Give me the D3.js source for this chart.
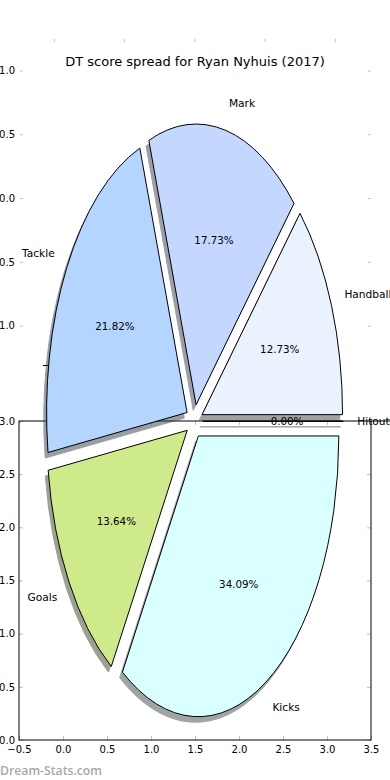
<!DOCTYPE html>
<html>
<head>
<meta charset="utf-8">
<script src="https://cdn.jsdelivr.net/npm/d3@7/dist/d3.min.js"></script>
<style>
  html, body { margin: 0; padding: 0; background: #fff; }
  svg { display: block; font-family: "DejaVu Sans", sans-serif; }
</style>
</head>
<body>
<script>
// ---- data ----
const title = "DT score spread for Ryan Nyhuis (2017)";
const categories = ["Hitout", "Handball", "Mark", "Tackle", "Goals", "Kicks"];
const values = [0.00, 12.73, 17.73, 21.82, 13.64, 34.09];
const colors = ["#eeeeee", "#eaf1ff", "#c4d8ff", "#b3d5ff", "#cfea8a", "#d9ffff"];
const explodeAmt = 0.06;
const ghostXTicks = [-1, -0.5, 0, 0.5, 1];
const ghostYTicks = [-1, -0.5, 0, 0.5, 1];
const bottomXTicks = [-0.5, 0, 0.5, 1, 1.5, 2, 2.5, 3, 3.5];
const bottomYTicks = [0, 0.5, 1, 1.5, 2, 2.5, 3];
const watermark = "Dream-Stats.com";

const W = 390, H = 780;
const svg = d3.select("body").append("svg").attr("width", W).attr("height", H);

// ---- bottom axes (drawn underneath the pie) ----
const bx = d3.scaleLinear().domain([-0.5, 3.5]).range([19, 371]);
const by = d3.scaleLinear().domain([0, 3]).range([740, 421]);
const tickGray = "#c0c0c0";
const fmt = d3.format(".1f");

function styleAxis(g) {
  g.select(".domain").remove();
  g.selectAll(".tick line").attr("stroke", tickGray);
  g.selectAll(".tick text").attr("fill", "#000").attr("font-size", 10).attr("font-family", "DejaVu Sans");
}

svg.append("g").attr("transform", `translate(0,${by(0)})`)
  .call(d3.axisBottom(bx).tickValues(bottomXTicks).tickFormat(fmt).tickSizeInner(-4).tickSizeOuter(0).tickPadding(6))
  .call(styleAxis);
svg.append("g").attr("transform", `translate(${bx(-0.5)},0)`)
  .call(d3.axisLeft(by).tickValues(bottomYTicks).tickFormat(fmt).tickSizeInner(-4).tickSizeOuter(0).tickPadding(4))
  .call(styleAxis);
svg.append("g").attr("transform", `translate(0,${by(3)})`)
  .call(d3.axisTop(bx).tickValues(bottomXTicks).tickFormat("").tickSizeInner(-4).tickSizeOuter(0))
  .call(styleAxis);
svg.append("g").attr("transform", `translate(${bx(3.5)},0)`)
  .call(d3.axisRight(by).tickValues(bottomYTicks).tickFormat("").tickSizeInner(-4).tickSizeOuter(0))
  .call(styleAxis);
svg.append("rect")
  .attr("x", bx(-0.5)).attr("y", by(3))
  .attr("width", bx(3.5) - bx(-0.5)).attr("height", by(0) - by(3))
  .attr("fill", "none").attr("stroke", "#000").attr("stroke-width", 1);
svg.append("line").attr("x1", bx(3.5)).attr("x2", W).attr("y1", by(3)).attr("y2", by(3))
  .attr("stroke", "#000").attr("stroke-width", 1);

// ---- ghost axes (faint ticks above) ----
const px = d3.scaleLinear().domain([-1, 1]).range([194.3 - 140.5, 194.3 + 140.5]);
const py = d3.scaleLinear().domain([-1, 1]).range([421.2 + 280.7, 421.2 - 280.7]);
const gy = d3.scaleLinear().domain([-1, 1]).range([325.7, 70.5]);

svg.append("g").attr("transform", "translate(0,39)")
  .call(d3.axisTop(px).tickValues(ghostXTicks).tickFormat("").tickSizeInner(-3).tickSizeOuter(0))
  .call(styleAxis);
svg.append("g").attr("transform", "translate(20,0)")
  .call(d3.axisLeft(gy).tickValues(ghostYTicks).tickFormat(fmt).tickSizeInner(-3).tickSizeOuter(0).tickPadding(5))
  .call(styleAxis);
svg.append("g").attr("transform", "translate(371,0)")
  .call(d3.axisRight(gy).tickValues(ghostYTicks).tickFormat("").tickSizeInner(-3).tickSizeOuter(0))
  .call(styleAxis);
svg.append("line").attr("x1", 43).attr("x2", 50).attr("y1", 365.5).attr("y2", 365.5)
  .attr("stroke", "#000").attr("stroke-width", 1);

// ---- pie ----
const total = d3.sum(values);
const arcs = d3.pie().sort(null).startAngle(0).endAngle(2 * Math.PI)(values);
const rxPx = px(1) - px(0), ryPx = py(0) - py(1);

const wedges = arcs.map((a, i) => {
  const t1 = a.startAngle, t2 = a.endAngle, tm = (t1 + t2) / 2;
  const cxD = explodeAmt * Math.cos(tm), cyD = explodeAmt * Math.sin(tm);
  return { i, t1, t2, tm, cxD, cyD, value: values[i], name: categories[i], color: colors[i] };
});

function wedgePath(w, dx, dy) {
  const cX = px(w.cxD + dx), cY = py(w.cyD + dy);
  const x1 = px(w.cxD + dx + Math.cos(w.t1)), y1 = py(w.cyD + dy + Math.sin(w.t1));
  const x2 = px(w.cxD + dx + Math.cos(w.t2)), y2 = py(w.cyD + dy + Math.sin(w.t2));
  const large = (w.t2 - w.t1) > Math.PI ? 1 : 0;
  if (w.t2 - w.t1 <= 0) return `M${cX},${cY}L${x1},${y1}Z`;
  return `M${cX},${cY}L${x1},${y1}A${rxPx},${ryPx} 0 ${large} 0 ${x2},${y2}Z`;
}

function shade(c) {
  const r = d3.rgb(c);
  return d3.rgb(r.r * 0.3, r.g * 0.3, r.b * 0.3).toString();
}

// shadows
svg.append("g").selectAll("path").data(wedges).join("path")
  .attr("d", w => wedgePath(w, -0.02, -0.02))
  .attr("fill", w => shade(w.color))
  .attr("stroke", w => shade(w.color))
  .attr("stroke-width", 1)
  .attr("opacity", 0.5);

// wedges
svg.append("g").selectAll("path").data(wedges).join("path")
  .attr("d", w => wedgePath(w, 0, 0))
  .attr("fill", w => w.color)
  .attr("stroke", "#000")
  .attr("stroke-width", 1)
  .attr("stroke-linejoin", "miter");

// labels
svg.append("g").selectAll("text").data(wedges).join("text")
  .attr("x", w => px(w.cxD + 1.1 * Math.cos(w.tm)))
  .attr("y", w => py(w.cyD + 1.1 * Math.sin(w.tm)))
  .attr("text-anchor", w => Math.cos(w.tm) > 0 ? "start" : "end")
  .attr("dominant-baseline", "central")
  .attr("font-size", 10.6)
  .attr("fill", "#000")
  .text(w => w.name);

svg.append("g").selectAll("text").data(wedges).join("text")
  .attr("x", w => px(w.cxD + 0.6 * Math.cos(w.tm)))
  .attr("y", w => py(w.cyD + 0.6 * Math.sin(w.tm)))
  .attr("text-anchor", "middle")
  .attr("dominant-baseline", "central")
  .attr("font-size", 10.3)
  .attr("fill", "#000")
  .text(w => (w.value / total * 100).toFixed(2) + "%");

// title
svg.append("text").attr("x", 195).attr("y", 65.5).attr("text-anchor", "middle")
  .attr("font-size", 13).attr("fill", "#000").text(title);

// watermark
svg.append("text").attr("x", 0).attr("y", 775).attr("font-size", 13)
  .attr("font-family", "Open Sans").attr("font-weight", 600)
  .attr("fill", "#a8a8a8").attr("textLength", 102).attr("lengthAdjust", "spacingAndGlyphs")
  .text(watermark);
</script>
</body>
</html>
